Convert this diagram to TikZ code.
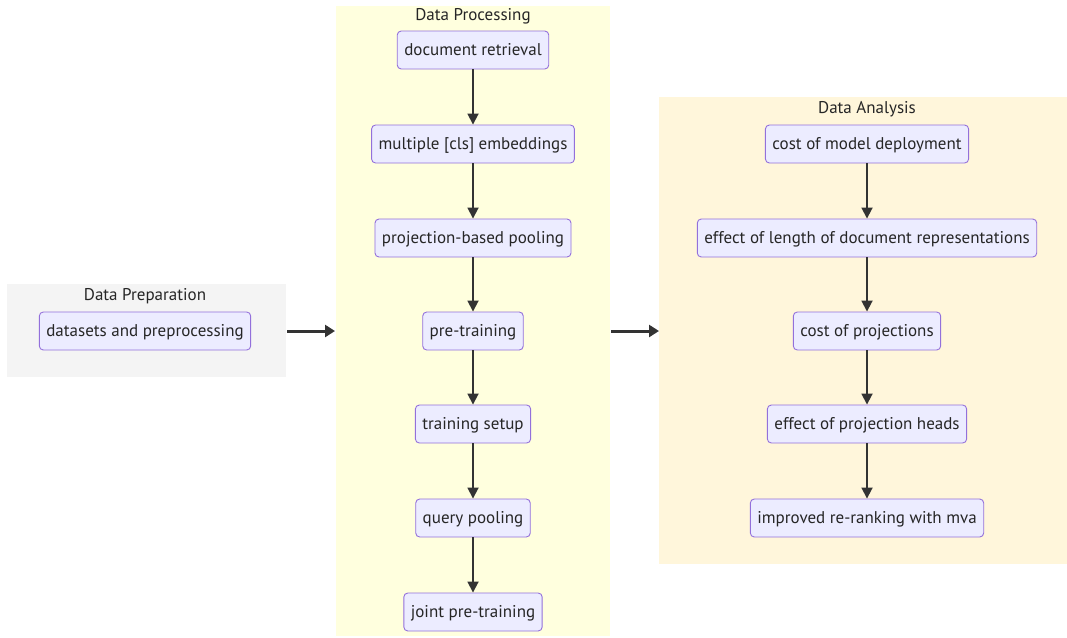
\documentclass[tikz,border=0pt]{standalone}
\usepackage{fontspec}
\setmainfont{PT Sans}
\usetikzlibrary{arrows.meta}
\definecolor{nodefill}{HTML}{ECECFF}
\definecolor{nodeline}{HTML}{9370DB}
\definecolor{prepfill}{HTML}{F4F4F4}
\definecolor{procfill}{HTML}{FFFFDE}
\definecolor{anafill}{HTML}{FFF6DB}
\definecolor{edge}{HTML}{333333}
\begin{document}
\begin{tikzpicture}[x=1pt,y=-1pt,
  box/.style={draw=nodeline, fill=nodefill, rounded corners=4pt, line width=0.9pt,
    minimum height=38pt, inner xsep=7pt, text height=13.5pt, text depth=2.5pt,
    text=black!85, font=\fontsize{17}{20}\selectfont},
  ctitle/.style={text=black!85, font=\fontsize{17}{20}\selectfont},
  flow/.style={draw=edge, line width=1.8pt, -{Triangle[length=11pt,width=11pt]}},
  link/.style={draw=edge, line width=3pt, -{Triangle[length=10pt,width=12pt]}}]
\useasboundingbox (0,0) rectangle (1067,637);
% clusters
\fill[prepfill] (7,284) rectangle (286,377);
\fill[procfill] (336,6) rectangle (610,636);
\fill[anafill] (659,97) rectangle (1067,564);
\node[ctitle] (tprep) at (145,296) {Data Preparation};
\node[ctitle] (tproc) at (473,16) {Data Processing};
\node[ctitle] (tana) at (867,109) {Data Analysis};
% cluster anchors for the links
\coordinate (prepE) at (287,331);
\coordinate (procW) at (335,331);
\coordinate (procE) at (611,331);
\coordinate (anaW) at (659,331);
% nodes
\node[box] (dp) at (145,331) {datasets and preprocessing};
\node[box] (p1) at (473,50) {document retrieval};
\node[box] (p2) at (473,144) {multiple [cls] embeddings};
\node[box] (p3) at (473,238) {projection-based pooling};
\node[box] (p4) at (473,331) {pre-training};
\node[box] (p5) at (473,424) {training setup};
\node[box] (p6) at (473,518) {query pooling};
\node[box] (p7) at (473,612) {joint pre-training};
\node[box] (a1) at (867,144) {cost of model deployment};
\node[box] (a2) at (867,238) {effect of length of document representations};
\node[box] (a3) at (867,331) {cost of projections};
\node[box] (a4) at (867,424) {effect of projection heads};
\node[box] (a5) at (867,518) {improved re-ranking with mva};
% edges
\draw[flow] (p1) -- (p2);
\draw[flow] (p2) -- (p3);
\draw[flow] (p3) -- (p4);
\draw[flow] (p4) -- (p5);
\draw[flow] (p5) -- (p6);
\draw[flow] (p6) -- (p7);
\draw[flow] (a1) -- (a2);
\draw[flow] (a2) -- (a3);
\draw[flow] (a3) -- (a4);
\draw[flow] (a4) -- (a5);
\draw[link] (prepE) -- (procW);
\draw[link] (procE) -- (anaW);
\end{tikzpicture}
\end{document}
